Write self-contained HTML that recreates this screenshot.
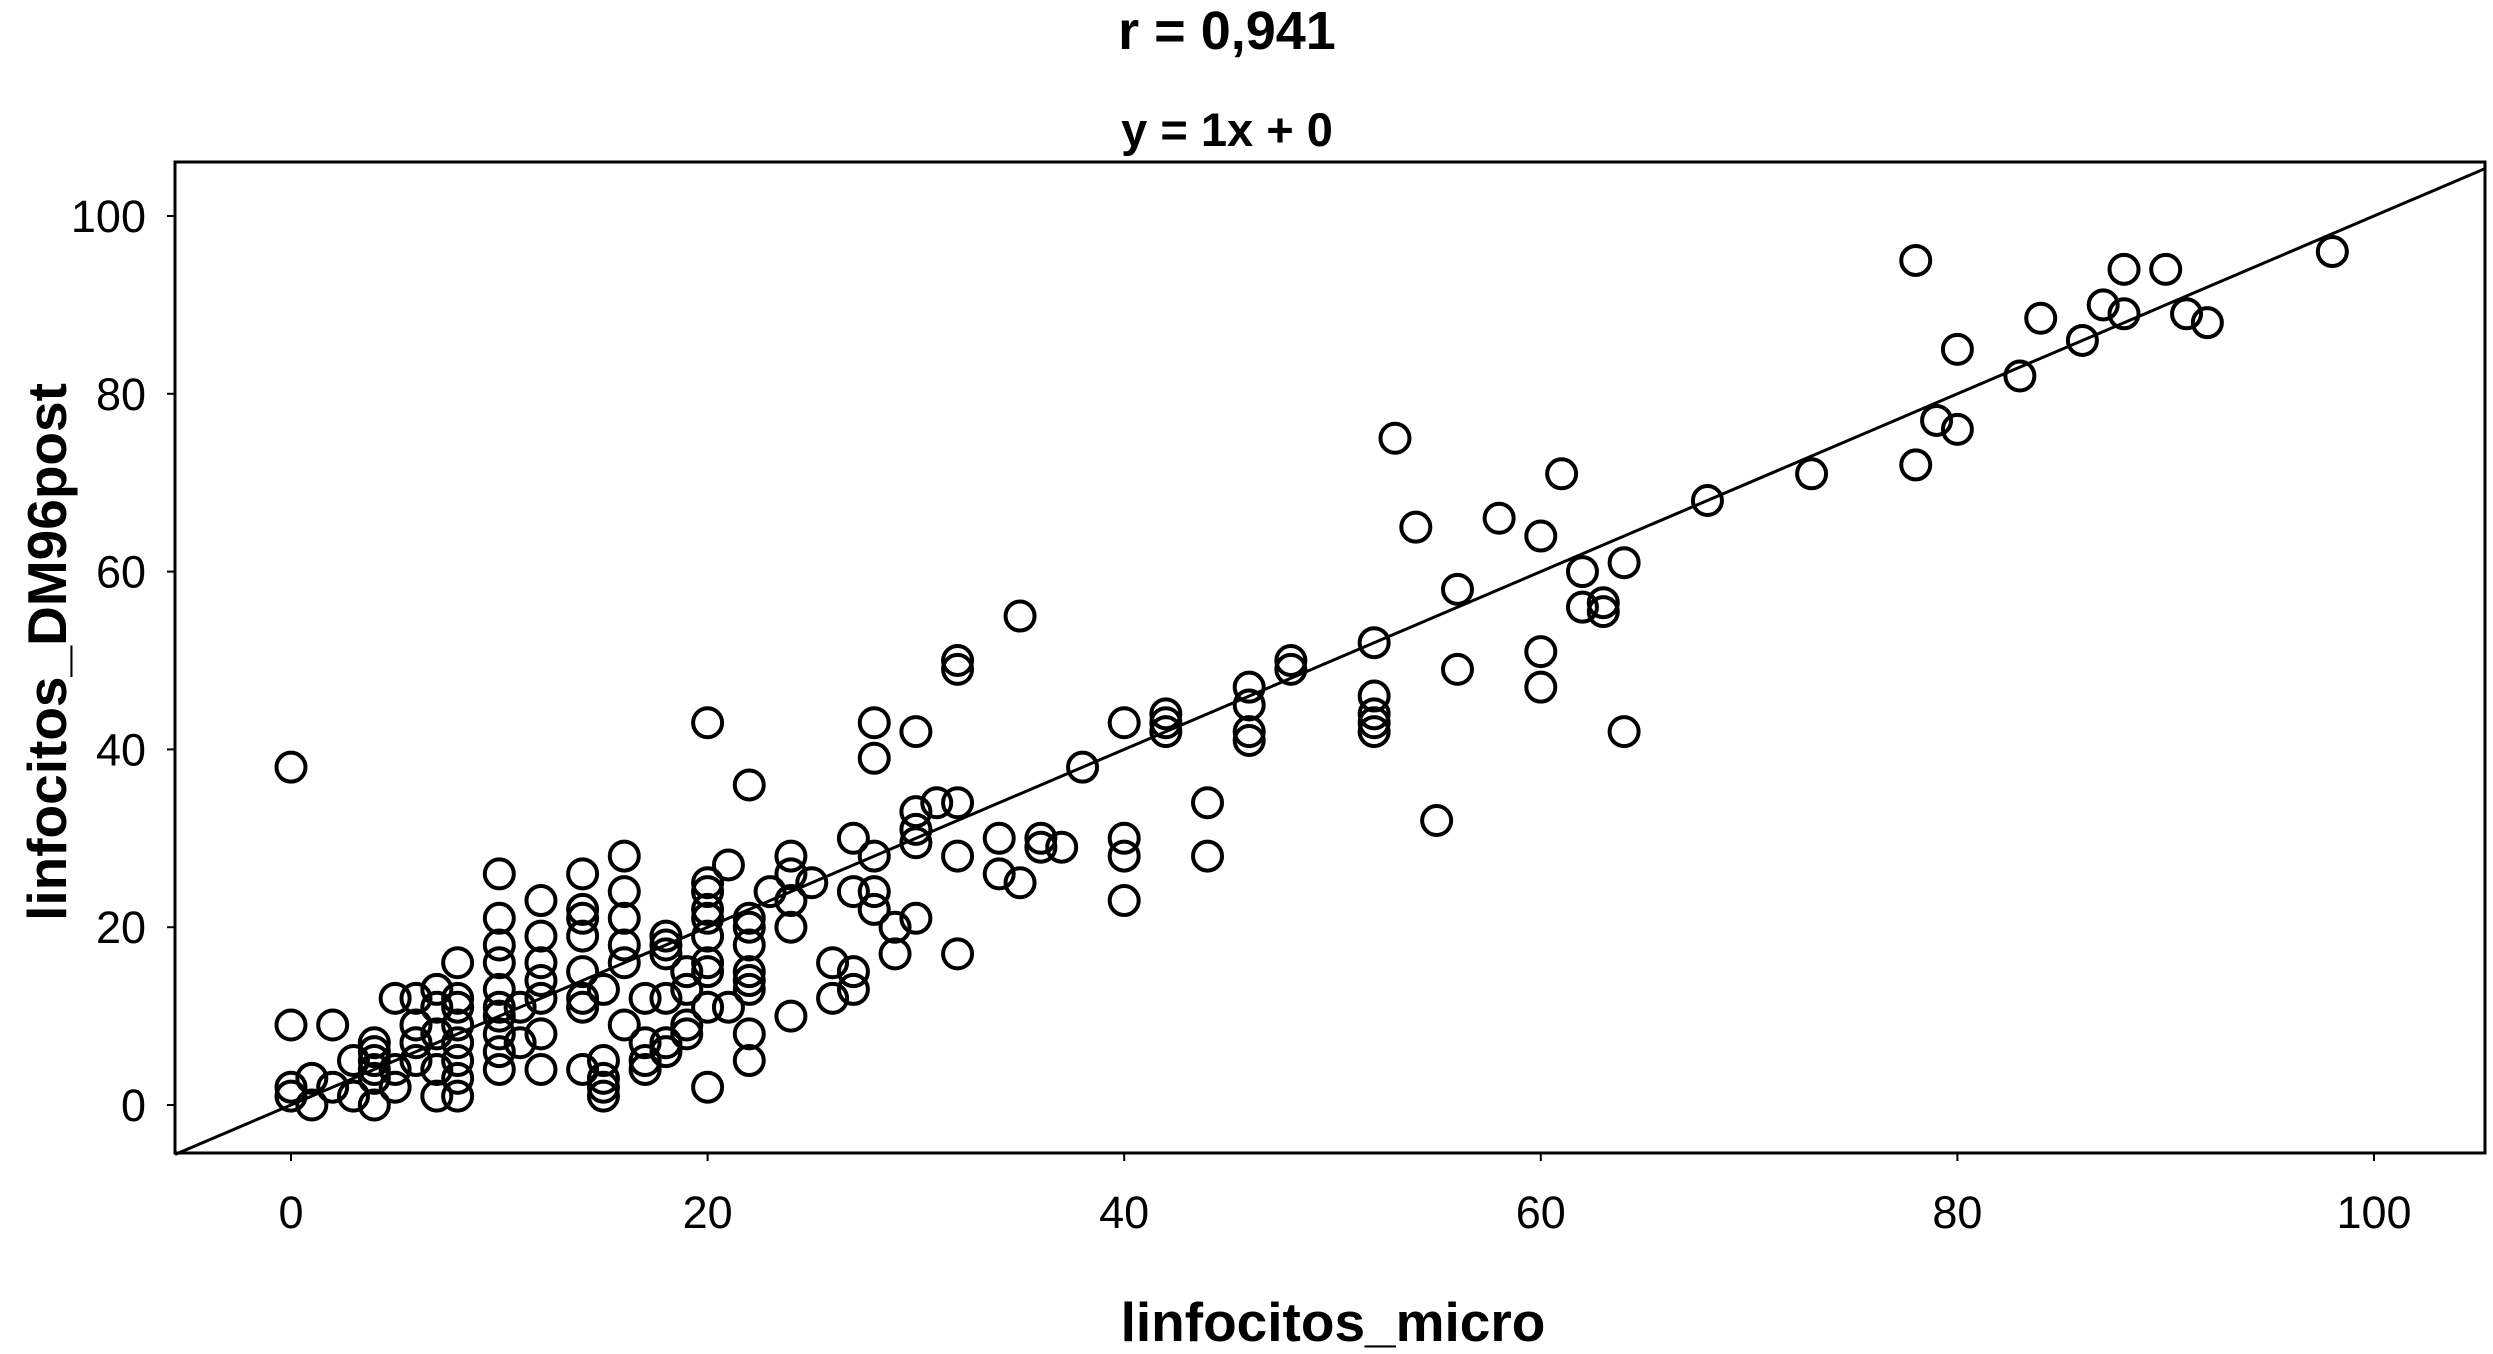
<!DOCTYPE html>
<html><head><meta charset="utf-8"><style>
html,body{margin:0;padding:0;background:#fff;}
svg{display:block;font-family:"Liberation Sans",Arial,sans-serif;}
</style></head><body>
<svg id="chart" width="2493" height="1354" viewBox="0 0 2493 1354" xmlns="http://www.w3.org/2000/svg">
<text x="1227" y="49" text-anchor="middle" font-size="54" font-weight="bold">r = 0,941</text>
<text x="1227" y="146" text-anchor="middle" font-size="47" font-weight="bold">y = 1x + 0</text>
<rect x="175" y="162" width="2310" height="991" fill="none" stroke="#000" stroke-width="3"/>
<g id="xticks"></g>
<g id="yticks"></g>
<g id="points"></g>
<line id="fit" stroke="#000" stroke-width="3"/>
<text x="1333" y="1341" text-anchor="middle" font-size="55" font-weight="bold">linfocitos_micro</text>
<text x="0" y="0" transform="translate(66,652) rotate(-90)" text-anchor="middle" font-size="55" font-weight="bold">linfocitos_DM96post</text>
</svg>
<script>
const xTicks=[0,20,40,60,80,100];
const yTicks=[0,20,40,60,80,100];
const fitSlope=1;
const fitIntercept=0;
const xs=[78,98,88,90,87,84,88,91,92,86,80,83,79,80,78,73,68,61,53,54,58,60,62,64,56,62,63,63,52,60,56,60,52,52,52,52,64,55,48,48,46,46,46,46,42,42,42,40,44,40,40,44,40,38,35,36,36,37,34,34,35,32,32,32,31,30,30,30,32,30,32,30,28,28,27,28,27,28,28,29,29,26,27,27,26,25,23,24,24,24,24,24,22,21,20,20,20,20,20,20,20,20,20,20,22,22,22,22,22,22,21,22,22,19,19,19,19,18,18,18,18,18,18,17,17,17,17,16,16,16,16,16,16,15,15,15,15,15,14,14,14,14,14,14,14,14,12,12,12,12,12,12,12,11,11,10,10,10,10,10,10,10,10,10,10,8,8,8,8,8,8,8,8,7,7,7,7,7,6,6,6,6,5,5,5,4,4,4,4,4,4,3,3,2,2,1,1,0,0,0,0];
const ys=[95,96,94,94,90,88.5,89,89,88,86,85,82,77,76,72,71,68,71,75,65,66,64,60,61,58,56,56.5,55.5,52,51,49,47,46,44,43,42,42,32,50,49,47,45,42,41,44,43,42,43,34,30,28,28,23,38,55,30,29,29,30,26,25,50,49,34,34,33,31,29.5,28,21,17,42,43,39,30,28,24,24,22,20,17,16,15,13,12,25,24,28,26,23,20,10,36,27,43,25,24,22,21,19,16,15,11,2,21,20,18,15,14,13,11,8,5,15,13,9,8,19,18,17,12,7,6,12,7,5,4,28,24,21,18,16,9,13,5,3,2,1,26,22,21,19,15,12,11,4,23,19,16,14,12,8,4,11,7,26,21,18,16,13,11,10,8,6,4,16,12,11,9,7,5,3,1,13,11,8,4,1,12,9,7,5,12,4,2,7,6,5,4,3,0,5,1,9,2,3,0,38,9,2,1];
const L=175,R=2485,T=162,B=1153;
const X=v=>291+v*(2374-291)/100;
const Y=v=>1105-v*(1105-216)/100;
const NS="http://www.w3.org/2000/svg";
const xt=document.getElementById('xticks');
xTicks.forEach(t=>{
  const l=document.createElementNS(NS,'line');
  
  
  l.setAttribute('x1',X(t));l.setAttribute('x2',X(t));l.setAttribute('y1',B);l.setAttribute('y2',B+8);
  l.setAttribute('stroke','#000');l.setAttribute('stroke-width','2');xt.appendChild(l);
  const s=document.createElementNS(NS,'text');
  
  
  s.setAttribute('x',X(t));s.setAttribute('y',1228);s.setAttribute('text-anchor','middle');s.setAttribute('font-size','45');
  s.textContent=t;xt.appendChild(s);
});
const yt=document.getElementById('yticks');
yTicks.forEach(t=>{
  const l=document.createElementNS(NS,'line');
  
  
  l.setAttribute('x1',L-8);l.setAttribute('x2',L);l.setAttribute('y1',Y(t));l.setAttribute('y2',Y(t));
  l.setAttribute('stroke','#000');l.setAttribute('stroke-width','2');yt.appendChild(l);
  const s=document.createElementNS(NS,'text');
  
  
  s.setAttribute('x',146);s.setAttribute('y',Y(t)+16);s.setAttribute('text-anchor','end');s.setAttribute('font-size','45');
  s.textContent=t;yt.appendChild(s);
});
const pg=document.getElementById('points');
xs.forEach((v,i)=>{
  const c=document.createElementNS(NS,'circle');
  
  
  c.setAttribute('cx',X(v));c.setAttribute('cy',Y(ys[i]));c.setAttribute('r',14.5);
  c.setAttribute('fill','none');c.setAttribute('stroke','#000');c.setAttribute('stroke-width','4');
  pg.appendChild(c);
});
const xmin=(L-291)*100/(2374-291), xmax=(R-291)*100/(2374-291);
const f=document.getElementById('fit');
f.setAttribute('x1',X(xmin));f.setAttribute('y1',Y(fitSlope*xmin+fitIntercept));
f.setAttribute('x2',X(xmax));f.setAttribute('y2',Y(fitSlope*xmax+fitIntercept));
</script>
</body></html>
